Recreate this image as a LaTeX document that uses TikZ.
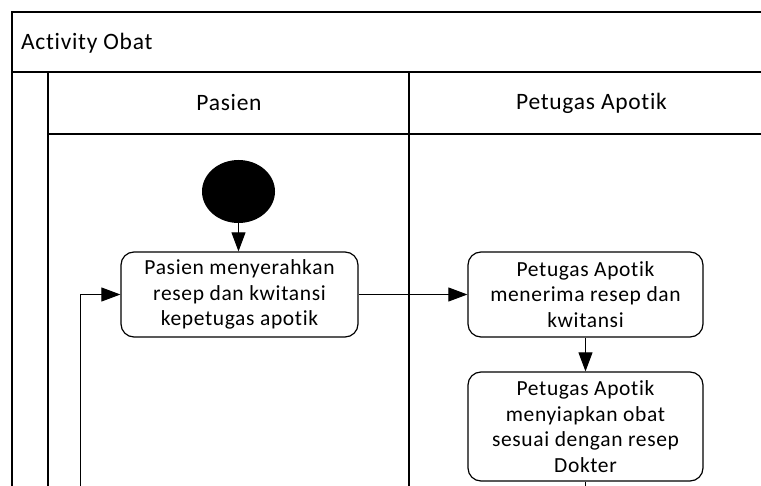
\documentclass[tikz,border=0pt]{standalone}
\usepackage{fontspec}
\setmainfont{Carlito}[LetterSpace=3,Ligatures={NoCommon,NoRequired,NoContextual}]
\usetikzlibrary{arrows.meta,shapes.geometric}
\begin{document}
\begin{tikzpicture}[x=1pt,y=-1pt,
  frame/.style={line width=1.4pt},
  action/.style={draw,line width=1.2pt,rounded corners=13pt,align=center,
    inner sep=0pt,font=\fontsize{21.5}{25.5}\selectfont},
  flow/.style={line width=0.9pt,-{Triangle[length=19pt,width=14pt]}},
  lanetitle/.style={font=\fontsize{23.5}{28}\selectfont}]
\useasboundingbox (0,0) rectangle (761,486);
\clip (0,0) rectangle (761,486);
\fill[white] (0,0) rectangle (761,486);

% pool frame, title band and swimlanes
\draw[frame] (790,12) -- (12,12) -- (12,500);
\draw[frame] (12,72) -- (790,72);
\draw[frame] (48,72) -- (48,500);
\draw[frame] (48,134) -- (790,134);
\draw[frame] (409,72) -- (409,500);

\node[lanetitle,anchor=base west,inner sep=0pt] (pool) at (21,50) {Activity Obat};
\node[lanetitle] (lane1) at (229,103) {Pasien};
\node[lanetitle] (lane2) at (591.5,103) {Petugas Apotik};

% activity nodes
\node[ellipse,fill=black,minimum width=73pt,minimum height=63pt,inner sep=0pt] (start) at (238.5,191.5) {};
\node[action,minimum width=237pt,minimum height=85pt] (serah) at (239.5,294.5)
  {Pasien menyerahkan\\resep dan kwitansi\\kepetugas apotik};
\node[action,minimum width=235pt,minimum height=85pt] (terima) at (585.5,294.5)
  {Petugas Apotik\\menerima resep dan\\kwitansi};
\node[action,minimum width=235pt,minimum height=109pt] (siap) at (585.5,426.5)
  {Petugas Apotik\\menyiapkan obat\\sesuai dengan resep\\Dokter};

\coordinate (loopin) at (80,500);
\coordinate (down) at (585.5,500);

% control flow
\draw[flow] (start.south) -- (serah.north -| start.south);
\draw[flow] (serah) -- (terima);
\draw[flow] (terima) -- (siap);
\draw[line width=0.9pt] (siap) -- (down);
\draw[flow] (loopin) |- (serah.west);
\end{tikzpicture}
\end{document}
